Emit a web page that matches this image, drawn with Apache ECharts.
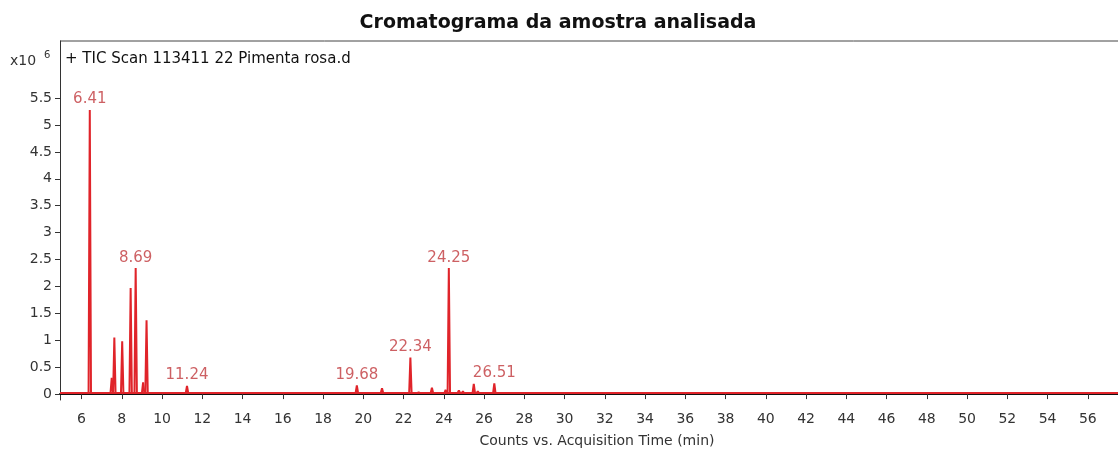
<!DOCTYPE html>
<html>
<head>
<meta charset="utf-8">
<title>Cromatograma</title>
<script src="https://cdn.jsdelivr.net/npm/echarts@6/dist/echarts.min.js"></script>
<style>
  html, body { margin: 0; padding: 0; background: #fff; }
  #chart { width: 1118px; height: 449px; }
</style>
</head>
<body>
<div id="chart"></div>
<script>
// retention times (min) and peak heights (x10^6 counts)
var peakTimes   = [6.41, 7.50, 7.63, 8.02, 8.44, 8.69, 9.06, 9.23, 11.24, 19.68, 20.93, 22.34, 22.75, 23.41, 24.09, 24.25, 24.75, 24.95, 25.49, 25.69, 26.51];
var peakHeights = [5.28, 0.30, 1.05, 0.98, 1.97, 2.34, 0.22, 1.37, 0.15, 0.16, 0.11, 0.68, 0.03, 0.12, 0.08, 2.34, 0.07, 0.05, 0.19, 0.05, 0.20];
var labeledPeaks = [6.41, 8.69, 11.24, 19.68, 22.34, 24.25, 26.51];
var baseline = 0.02;
var runStart = 4.93, runEnd = 57.5;

var xTicks = [6, 8, 10, 12, 14, 16, 18, 20, 22, 24, 26, 28, 30, 32, 34, 36, 38, 40, 42, 44, 46, 48, 50, 52, 54, 56];
var yTicks = [0, 0.5, 1, 1.5, 2, 2.5, 3, 3.5, 4, 4.5, 5, 5.5];

var myChart = echarts.init(document.getElementById('chart'));

var peakData = [];
peakTimes.forEach(function (t, i) {
    peakData.push([t, peakHeights[i]]);
});

// retention time labels on the main peaks
var labelData = [];
labeledPeaks.forEach(function (t) {
    labelData.push([t, peakHeights[peakTimes.indexOf(t)]]);
});

var red = '#e0242a';
var txt = '#333';
var font = 'DejaVu Sans';
var halfW = 0.06;

// each peak is a narrow spike from the baseline
function renderPeak(params, api) {
    var t = api.value(0), h = api.value(1);
    var p0 = api.coord([t - halfW, baseline]);
    var p1 = api.coord([t, h]);
    var p2 = api.coord([t + halfW, baseline]);
    return {
        type: 'polyline',
        shape: { points: [p0, p1, p2] },
        style: { stroke: red, lineWidth: 2, lineJoin: 'bevel', fill: null }
    };
}

var option = {
    animation: false,
    title: {
        text: 'Cromatograma da amostra analisada',
        left: 553, top: 9, textAlign: 'center',
        textStyle: { fontFamily: font, fontSize: 19, fontWeight: 'bold', color: '#111' }
    },
    grid: { left: 60, right: 0, top: 41, bottom: 49 },
    xAxis: {
        type: 'value',
        min: runStart, max: runEnd,
        axisLine: { lineStyle: { color: '#111', width: 2 } },
        axisTick: { customValues: xTicks, length: 5, lineStyle: { color: '#333' } },
        axisLabel: { customValues: xTicks, margin: 12, color: txt, fontFamily: font, fontSize: 14 },
        splitLine: { show: false }
    },
    yAxis: {
        type: 'value',
        min: -0.11, max: 6.56,
        axisLine: { show: true, lineStyle: { color: '#333' } },
        axisTick: { show: true, customValues: yTicks, length: 5, lineStyle: { color: '#333' } },
        axisLabel: { customValues: yTicks, margin: 8, color: txt, fontFamily: font, fontSize: 14 },
        splitLine: { show: false }
    },
    graphic: [
        { type: 'line', shape: { x1: 60, y1: 41, x2: 1118, y2: 41 }, style: { stroke: '#444', lineWidth: 1 } },
        { type: 'text', left: 10, top: 54, style: { text: 'x10', fill: txt, font: '14px ' + font } },
        { type: 'text', left: 44, top: 50, style: { text: '6', fill: txt, font: '10px ' + font } },
        { type: 'text', left: 65, top: 52, style: { text: '+ TIC Scan 113411 22 Pimenta rosa.d', fill: '#111', font: '15px ' + font } },
        { type: 'text', x: 597, y: 441, style: { text: 'Counts vs. Acquisition Time (min)', fill: txt, font: '14px ' + font, align: 'center', verticalAlign: 'middle' } }
    ],
    series: [{
        type: 'line',
        data: [[runStart, baseline], [runEnd, baseline]],
        symbol: 'none',
        silent: true,
        lineStyle: { color: red, width: 2 }
    }, {
        type: 'custom',
        data: peakData,
        renderItem: renderPeak,
        silent: true
    }, {
        type: 'scatter',
        data: labelData,
        symbolSize: 0,
        silent: true,
        label: {
            show: true, position: 'top', distance: 3,
            formatter: function (p) { return p.value[0].toFixed(2); },
            color: '#c0383c', fontFamily: font, fontSize: 15
        }
    }]
};

myChart.setOption(option);
</script>
</body>
</html>
